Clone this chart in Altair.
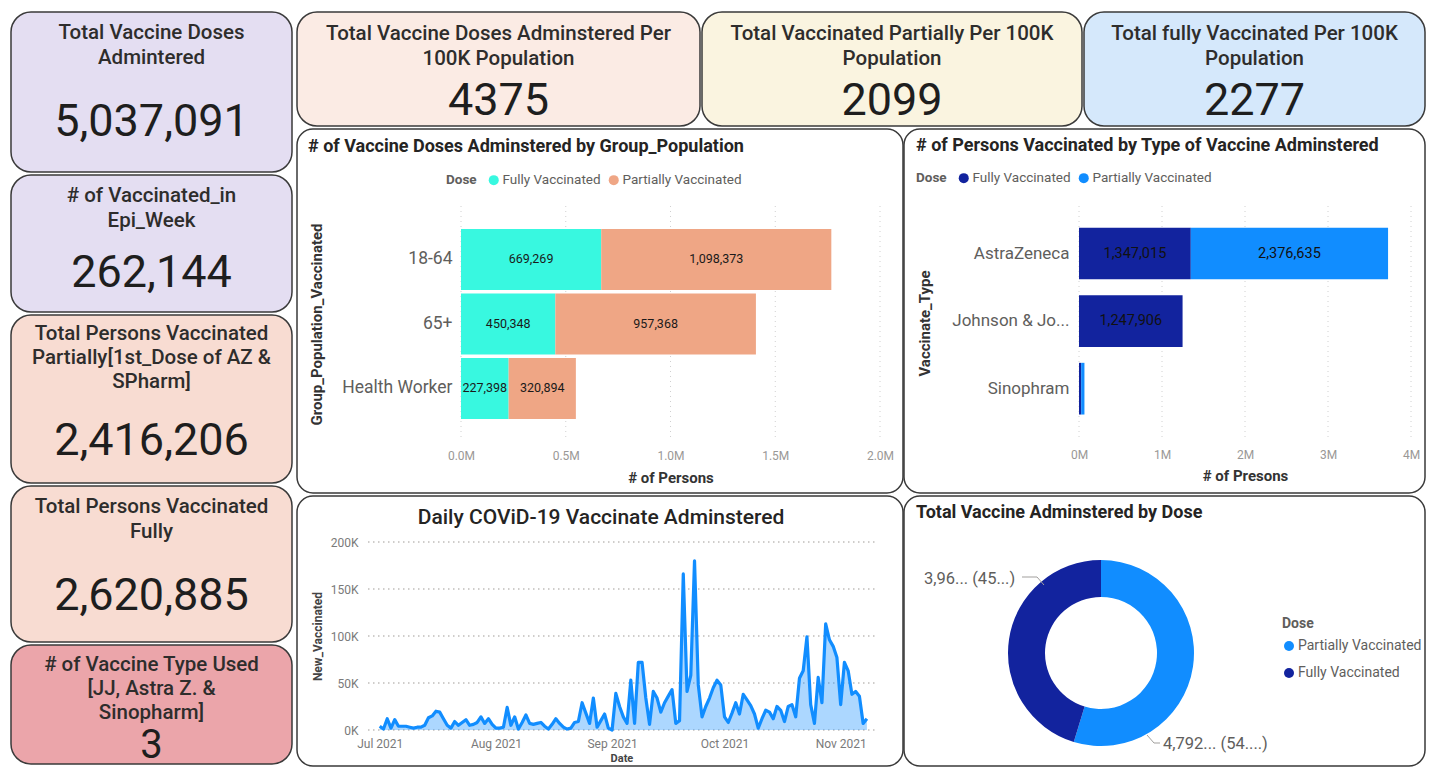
import altair as alt
import pandas as pd

FONT = "Roboto"
TXT = "#252423"
GRAY = "#605E5C"
LIGHT = "#9A9896"
BORDER = "#3A3A3A"
TEAL = "#38F8E0"
SALMON = "#EFA685"
NAVY = "#12239E"
BLUE = "#118DFF"

# ---------------- data ----------------
left_titles = [
    "Total Vaccine Doses\nAdmintered",
    "# of Vaccinated_in\nEpi_Week",
    "Total Persons Vaccinated\nPartially[1st_Dose of AZ &\nSPharm]",
    "Total Persons Vaccinated\nFully",
    "# of Vaccine Type Used\n[JJ, Astra Z. &\nSinopharm]",
]
left_values = ["5,037,091", "262,144", "2,416,206", "2,620,885", "3"]
left_fills = ["#E4DEF2", "#E4DEF2", "#F8DCD2", "#F8DCD2", "#EBA5AA"]

top_titles = [
    "Total Vaccine Doses Adminstered Per\n100K Population",
    "Total Vaccinated Partially Per 100K\nPopulation",
    "Total fully Vaccinated Per 100K\nPopulation",
]
top_values = ["4375", "2099", "2277"]
top_fills = ["#FBEBE4", "#FAF4E0", "#D5E8FB"]

chart_titles = [
    "# of Vaccine Doses Adminstered by Group_Population",
    "# of Persons Vaccinated by Type of Vaccine Adminstered",
    "Daily COViD-19 Vaccinate Adminstered",
    "Total Vaccine Adminstered  by Dose",
]

dose_order = ["Fully Vaccinated", "Partially Vaccinated"]

groups = ["18-64", "65+", "Health Worker"]
group_fully = [669269, 450348, 227398]
group_partial = [1098373, 957368, 320894]
x_ticks_group = [0, 500000, 1000000, 1500000, 2000000]

vaccines = ["AstraZeneca", "Johnson & Johnson", "Sinophram"]
vaccine_fully = [1347015, 1247906, 25964]
vaccine_partial = [2376635, 0, 39571]
x_ticks_type = [0, 1000000, 2000000, 3000000, 4000000]

daily_start = "2021-07-01"
daily_new = [
    4000, 1000, 12000, 2000, 11000, 4000, 4000, 4000, 3000, 2000,
    3000, 3000, 5000, 13000, 15000, 20000, 19000, 12000, 5000, 2000,
    9000, 5000, 8000, 11000, 5000, 6000, 8000, 14000, 7000, 12000,
    6000, 2000, 2000, 3000, 24000, 5000, 14000, 1000, 8000, 16000,
    7000, 6000, 7000, 8000, 4000, 1000, 6000, 12000, 7000, 3000,
    1000, 2000, 8000, 9000, 29000, 18000, 7000, 34000, 3000, 10000,
    17000, 2000, 0, 39000, 25000, 14000, 7000, 53000, 7000, 72000,
    72000, 34000, 6000, 41000, 34000, 19000, 29000, 36000, 43000, 7000,
    10000, 166000, 41000, 58000, 180000, 48000, 14000, 25000, 34000, 45000,
    53000, 48000, 14000, 8000, 18000, 29000, 17000, 38000, 32000, 26000,
    17000, 2000, 12000, 21000, 19000, 12000, 25000, 21000, 9000, 25000,
    27000, 14000, 55000, 63000, 99000, 27000, 7000, 56000, 29000, 113000,
    96000, 89000, 77000, 27000, 72000, 63000, 38000, 41000, 36000, 7000,
    12000,
]
y_ticks_daily = [0, 50000, 100000, 150000, 200000]

donut_doses = ["Partially Vaccinated", "Fully Vaccinated"]
donut_totals = [4792000, 3964000]
donut_labels = ["4,792... (54....)", "3,96... (45...)"]

PANEL_VIEW = alt.ViewBackground(fill="white", stroke=BORDER, strokeWidth=1.5, cornerRadius=16)


# ---------------- KPI cards ----------------
def card(title, value, w, h, fill, first_y, value_y, value_size=45, lh=25, tsize=20.5):
    df = pd.DataFrame({"title": [title], "value": [value]})
    base = alt.Chart(df)
    t = base.mark_text(font=FONT, fontSize=tsize, fontWeight=500, color="#2E2D2C", lineBreak="\n",
                       lineHeight=lh, align="center", baseline="middle").encode(
        x=alt.value(w / 2), y=alt.value(first_y), text="title:N")
    v = base.mark_text(font=FONT, fontSize=value_size, color="#1E1E1E", align="center",
                       baseline="middle").encode(
        x=alt.value(w / 2), y=alt.value(value_y), text="value:N")
    return alt.layer(t, v).properties(
        width=w, height=h,
        view=alt.ViewBackground(fill=fill, stroke=BORDER, strokeWidth=1.5, cornerRadius=20))


LW = 281
left_geo = [(160, 21, 110, 45), (137, 21, 98, 45), (168, 19, 126, 45), (156, 21, 110, 45), (119, 20, 101, 40)]
left_cards = [card(t, v, LW, g[0], f, g[1], g[2], g[3], lh=(24 if i in (2, 4) else 25))
              for i, (t, v, f, g) in enumerate(zip(left_titles, left_values, left_fills, left_geo))]

top_w = [403, 380, 341]
top_cards = [card(t, v, w, 114, f, 22, 89)
             for t, v, f, w in zip(top_titles, top_values, top_fills, top_w)]


def title_layer(text, x, y, size=18, weight="bold", align="left"):
    return alt.Chart(pd.DataFrame({"t": [text]})).mark_text(
        font=FONT, fontSize=size, fontWeight=weight, color=TXT, align=align, baseline="middle"
    ).encode(x=alt.value(x), y=alt.value(y), text="t:N")


def legend_h(x, y):
    return alt.Legend(title="Dose", orient="none", legendX=x, legendY=y, direction="horizontal",
                      titleOrient="left", symbolType="circle", symbolSize=100, symbolStrokeWidth=0,
                      labelFont=FONT, labelFontSize=13.5, labelColor=GRAY, titleFont=FONT,
                      titleFontSize=13.5, titleFontWeight="bold", titleColor=GRAY, titlePadding=10,
                      columnPadding=6, labelOffset=2)


# ---------------- chart 1: by group ----------------
W1, H1 = 606, 364
rows1 = []
for g, f, p in zip(groups, group_fully, group_partial):
    rows1.append({"group": g, "Dose": dose_order[0], "value": f, "ord": 0})
    rows1.append({"group": g, "Dose": dose_order[1], "value": p, "ord": 1})
df1 = pd.DataFrame(rows1)

sx1 = alt.Scale(domain=[0, 2000000], range=[164, 583], nice=False)
sy1 = alt.Scale(domain=groups, range=[77, 308], paddingInner=0.054, paddingOuter=0.318, align=0.56)
ax1x = alt.Axis(
    title="# of Persons", values=x_ticks_group,
    labelExpr="format(datum.value / 1000000, '.1f') + 'M'",
    grid=False, domain=False, ticks=False, offset=316 - H1, labelPadding=5, labelFlush=False,
    labelFont=FONT, labelFontSize=12, labelColor=LIGHT, titleFont=FONT, titleFontSize=15,
    titleFontWeight="bold", titleColor="#333333", titleY=32, titleBaseline="middle")
ax1y = alt.Axis(
    title="Group_Population_Vaccinated", domain=False, ticks=False, grid=False,
    offset=-164, labelPadding=9, labelFont=FONT, labelFontSize=17.5, labelColor=GRAY,
    titleFont=FONT, titleFontSize=15, titleFontWeight="bold", titleColor="#333333",
    titleX=19 - 164, titleY=195, titleAngle=270, titleBaseline="middle", titleAlign="center")

grid1 = alt.Chart(pd.DataFrame({"value": x_ticks_group})).mark_rule(
    color="#D0D0D0", strokeDash=[1, 4], strokeWidth=1).encode(
    x=alt.X("value:Q", scale=sx1, axis=ax1x), y=alt.value(77), y2=alt.value(308))

bars1 = alt.Chart(df1).mark_bar().encode(
    x=alt.X("value:Q", stack="zero", scale=sx1, axis=ax1x),
    y=alt.Y("group:N", scale=sy1, sort=groups, axis=ax1y),
    color=alt.Color("Dose:N", scale=alt.Scale(domain=dose_order, range=[TEAL, SALMON]),
                    legend=legend_h(149, 44)),
    order=alt.Order("ord:Q", sort="ascending"),
)

labels1 = alt.Chart(df1).transform_stack(
    stack="value", groupby=["group"], as_=["v0", "v1"],
    sort=[alt.SortField("ord", order="ascending")]
).transform_calculate(mid="(datum.v0 + datum.v1) / 2").mark_text(
    font=FONT, fontSize=12.5, color="#1A1A1A", baseline="middle").encode(
    x=alt.X("mid:Q", scale=sx1, axis=ax1x),
    y=alt.Y("group:N", scale=sy1, sort=groups, axis=ax1y),
    text=alt.Text("value:Q", format=","))

chart1 = alt.layer(grid1, bars1, labels1, title_layer(chart_titles[0], 11, 18)).properties(
    width=W1, height=H1, view=PANEL_VIEW)

# ---------------- chart 2: by vaccine type ----------------
W2, H2 = 521, 364
rows2 = []
for v, f, p in zip(vaccines, vaccine_fully, vaccine_partial):
    rows2.append({"type": v, "Dose": dose_order[0], "value": f, "ord": 0})
    rows2.append({"type": v, "Dose": dose_order[1], "value": p, "ord": 1})
df2 = pd.DataFrame(rows2)

sx2 = alt.Scale(domain=[0, 4000000], range=[175, 507], nice=False)
sy2 = alt.Scale(domain=vaccines, range=[77, 309], paddingInner=0.235, paddingOuter=0.334, align=0.48)
ax2x = alt.Axis(
    title="# of Presons", values=x_ticks_type,
    labelExpr="(datum.value / 1000000) + 'M'",
    grid=False, domain=False, ticks=False, offset=315 - H2, labelPadding=5, labelFlush=False,
    labelFont=FONT, labelFontSize=12, labelColor=LIGHT, titleFont=FONT, titleFontSize=15,
    titleFontWeight="bold", titleColor="#333333", titleY=31, titleBaseline="middle")
ax2y = alt.Axis(
    title="Vaccinate_Type", domain=False, ticks=False, grid=False,
    offset=-175, labelPadding=10, labelFont=FONT, labelFontSize=17, labelColor=GRAY,
    labelExpr="length(datum.label) > 13 ? slice(datum.label, 0, 12) + '...' : datum.label",
    titleFont=FONT, titleFontSize=15, titleFontWeight="bold", titleColor="#333333",
    titleX=20 - 175, titleY=194, titleAngle=270, titleBaseline="middle", titleAlign="center")

grid2 = alt.Chart(pd.DataFrame({"value": x_ticks_type})).mark_rule(
    color="#D0D0D0", strokeDash=[1, 4], strokeWidth=1).encode(
    x=alt.X("value:Q", scale=sx2, axis=ax2x), y=alt.value(77), y2=alt.value(309))

bars2 = alt.Chart(df2).mark_bar().encode(
    x=alt.X("value:Q", stack="zero", scale=sx2, axis=ax2x),
    y=alt.Y("type:N", scale=sy2, sort=vaccines, axis=ax2y),
    color=alt.Color("Dose:N", scale=alt.Scale(domain=dose_order, range=[NAVY, BLUE]),
                    legend=legend_h(12, 42)),
    order=alt.Order("ord:Q", sort="ascending"),
)

labels2 = alt.Chart(df2).transform_stack(
    stack="value", groupby=["type"], as_=["v0", "v1"],
    sort=[alt.SortField("ord", order="ascending")]
).transform_calculate(mid="(datum.v0 + datum.v1) / 2").transform_filter(
    "datum.value > 200000").mark_text(
    font=FONT, fontSize=14.5, color="#111111", baseline="middle").encode(
    x=alt.X("mid:Q", scale=sx2, axis=ax2x),
    y=alt.Y("type:N", scale=sy2, sort=vaccines, axis=ax2y),
    text=alt.Text("value:Q", format=","))

chart2 = alt.layer(grid2, bars2, labels2, title_layer(chart_titles[1], 12, 17)).properties(
    width=W2, height=H2, view=PANEL_VIEW)

# ---------------- chart 3: daily line ----------------
W3, H3 = 606, 270
df3 = pd.DataFrame({
    "Date": pd.date_range(daily_start, periods=len(daily_new), freq="D").strftime("%Y-%m-%d"),
    "New_Vaccinated": daily_new,
})
sx3 = alt.Scale(type="utc", domain=[alt.DateTime(year=2021, month=6, date=28, utc=True),
                                    alt.DateTime(year=2021, month=11, date=10, utc=True)],
                range=[71.5, 577.4], nice=False)
sy3 = alt.Scale(domain=[0, 200000], range=[234, 46], nice=False)
ax3x = alt.Axis(
    title="Date", labelExpr="utcFormat(datum.value, '%b %Y')", tickCount="month", grid=False,
    domain=False, ticks=False, offset=238 - H3, labelPadding=4, labelFlush=False,
    labelFont=FONT, labelFontSize=12, labelColor="#7A7A7A", titleFont=FONT,
    titleFontSize=11, titleFontWeight="bold", titleColor="#444444", titleY=24,
    titleBaseline="middle")
ax3y = alt.Axis(
    title="New_Vaccinated", values=y_ticks_daily, labelExpr="(datum.value / 1000) + 'K'",
    grid=False, domain=False, ticks=False, offset=-71, labelPadding=10,
    labelFont=FONT, labelFontSize=12, labelColor="#7A7A7A", titleFont=FONT,
    titleFontSize=12, titleFontWeight="bold", titleColor="#444444",
    titleX=20 - 71, titleY=140, titleAngle=270, titleBaseline="middle", titleAlign="center")

grid3 = alt.Chart(pd.DataFrame({"New_Vaccinated": y_ticks_daily})).mark_rule(
    color="#CFCDCB", strokeDash=[1.5, 3.5], strokeWidth=2).encode(
    y=alt.Y("New_Vaccinated:Q", scale=sy3, axis=ax3y), x=alt.value(71), x2=alt.value(578))

area3 = alt.Chart(df3).mark_area(color=BLUE, opacity=0.35).encode(
    x=alt.X("Date:T", scale=sx3, axis=ax3x),
    y=alt.Y("New_Vaccinated:Q", scale=sy3, axis=ax3y),
)
line3 = alt.Chart(df3).mark_line(color=BLUE, strokeWidth=3.2, strokeJoin="round").encode(
    x=alt.X("Date:T", scale=sx3, axis=ax3x),
    y=alt.Y("New_Vaccinated:Q", scale=sy3, axis=ax3y))

chart3 = alt.layer(grid3, area3, line3,
                   title_layer(chart_titles[2], 304, 22, size=21, weight=500, align="center")
                   ).properties(width=W3, height=H3, view=PANEL_VIEW)

# ---------------- chart 4: donut ----------------
W4, H4 = 521, 270
df4 = pd.DataFrame({"Dose": donut_doses, "total": donut_totals, "ord": [0, 1]})
arc4 = alt.Chart(df4).mark_arc(radius=93, innerRadius=56).encode(
    theta=alt.Theta("total:Q", stack=True),
    color=alt.Color("Dose:N", scale=alt.Scale(domain=donut_doses, range=[BLUE, NAVY]),
                    legend=alt.Legend(title="Dose", orient="none", legendX=378, legendY=121,
                                      direction="vertical", symbolType="circle", symbolSize=100,
                                      symbolStrokeWidth=0, rowPadding=13, titlePadding=8,
                                      labelFont=FONT, labelFontSize=14, labelColor=GRAY,
                                      titleFont=FONT, titleFontSize=14, titleFontWeight="bold",
                                      titleColor=GRAY, labelOffset=2)),
    order=alt.Order("ord:Q", sort="ascending"),
    x=alt.value(197), y=alt.value(157),
)


def note(text, x, y):
    return alt.Chart(pd.DataFrame({"t": [text]})).mark_text(
        font=FONT, fontSize=16.5, color=GRAY, align="left", baseline="middle").encode(
        x=alt.value(x), y=alt.value(y), text="t:N")


def leader(x1, y1, x2, y2):
    return alt.Chart(pd.DataFrame({"a": [0]})).mark_rule(color="#A19F9D", strokeWidth=1).encode(
        x=alt.value(x1), y=alt.value(y1), x2=alt.value(x2), y2=alt.value(y2))


chart4 = alt.layer(
    arc4,
    leader(118, 81, 133, 81), leader(133, 81, 140, 89),
    leader(243, 239, 250, 247), leader(250, 247, 256, 247),
    note(donut_labels[1], 20, 83), note(donut_labels[0], 259, 248),
    title_layer(chart_titles[3], 12, 17),
).properties(width=W4, height=H4, view=PANEL_VIEW)


# ---------------- layout ----------------
def indep(c):
    return c.resolve_scale(color="independent").resolve_legend(color="independent")


left_col = alt.vconcat(*left_cards, spacing=3, bounds="flush")
top_row = alt.hconcat(*top_cards, spacing=2, bounds="flush")
mid_row = indep(alt.hconcat(chart1, chart2, spacing=1, bounds="flush"))
bot_row = indep(alt.hconcat(chart3, chart4, spacing=1, bounds="flush"))
right_col = indep(alt.vconcat(top_row, mid_row, bot_row, spacing=1))
chart = indep(alt.hconcat(left_col, right_col, spacing=3)).properties(
    padding={"left": 2, "top": 3, "right": 0, "bottom": 0}
).configure(font=FONT).configure_view(strokeWidth=0)

chart.save("out.html", embed_options={"renderer": "svg", "actions": False})
